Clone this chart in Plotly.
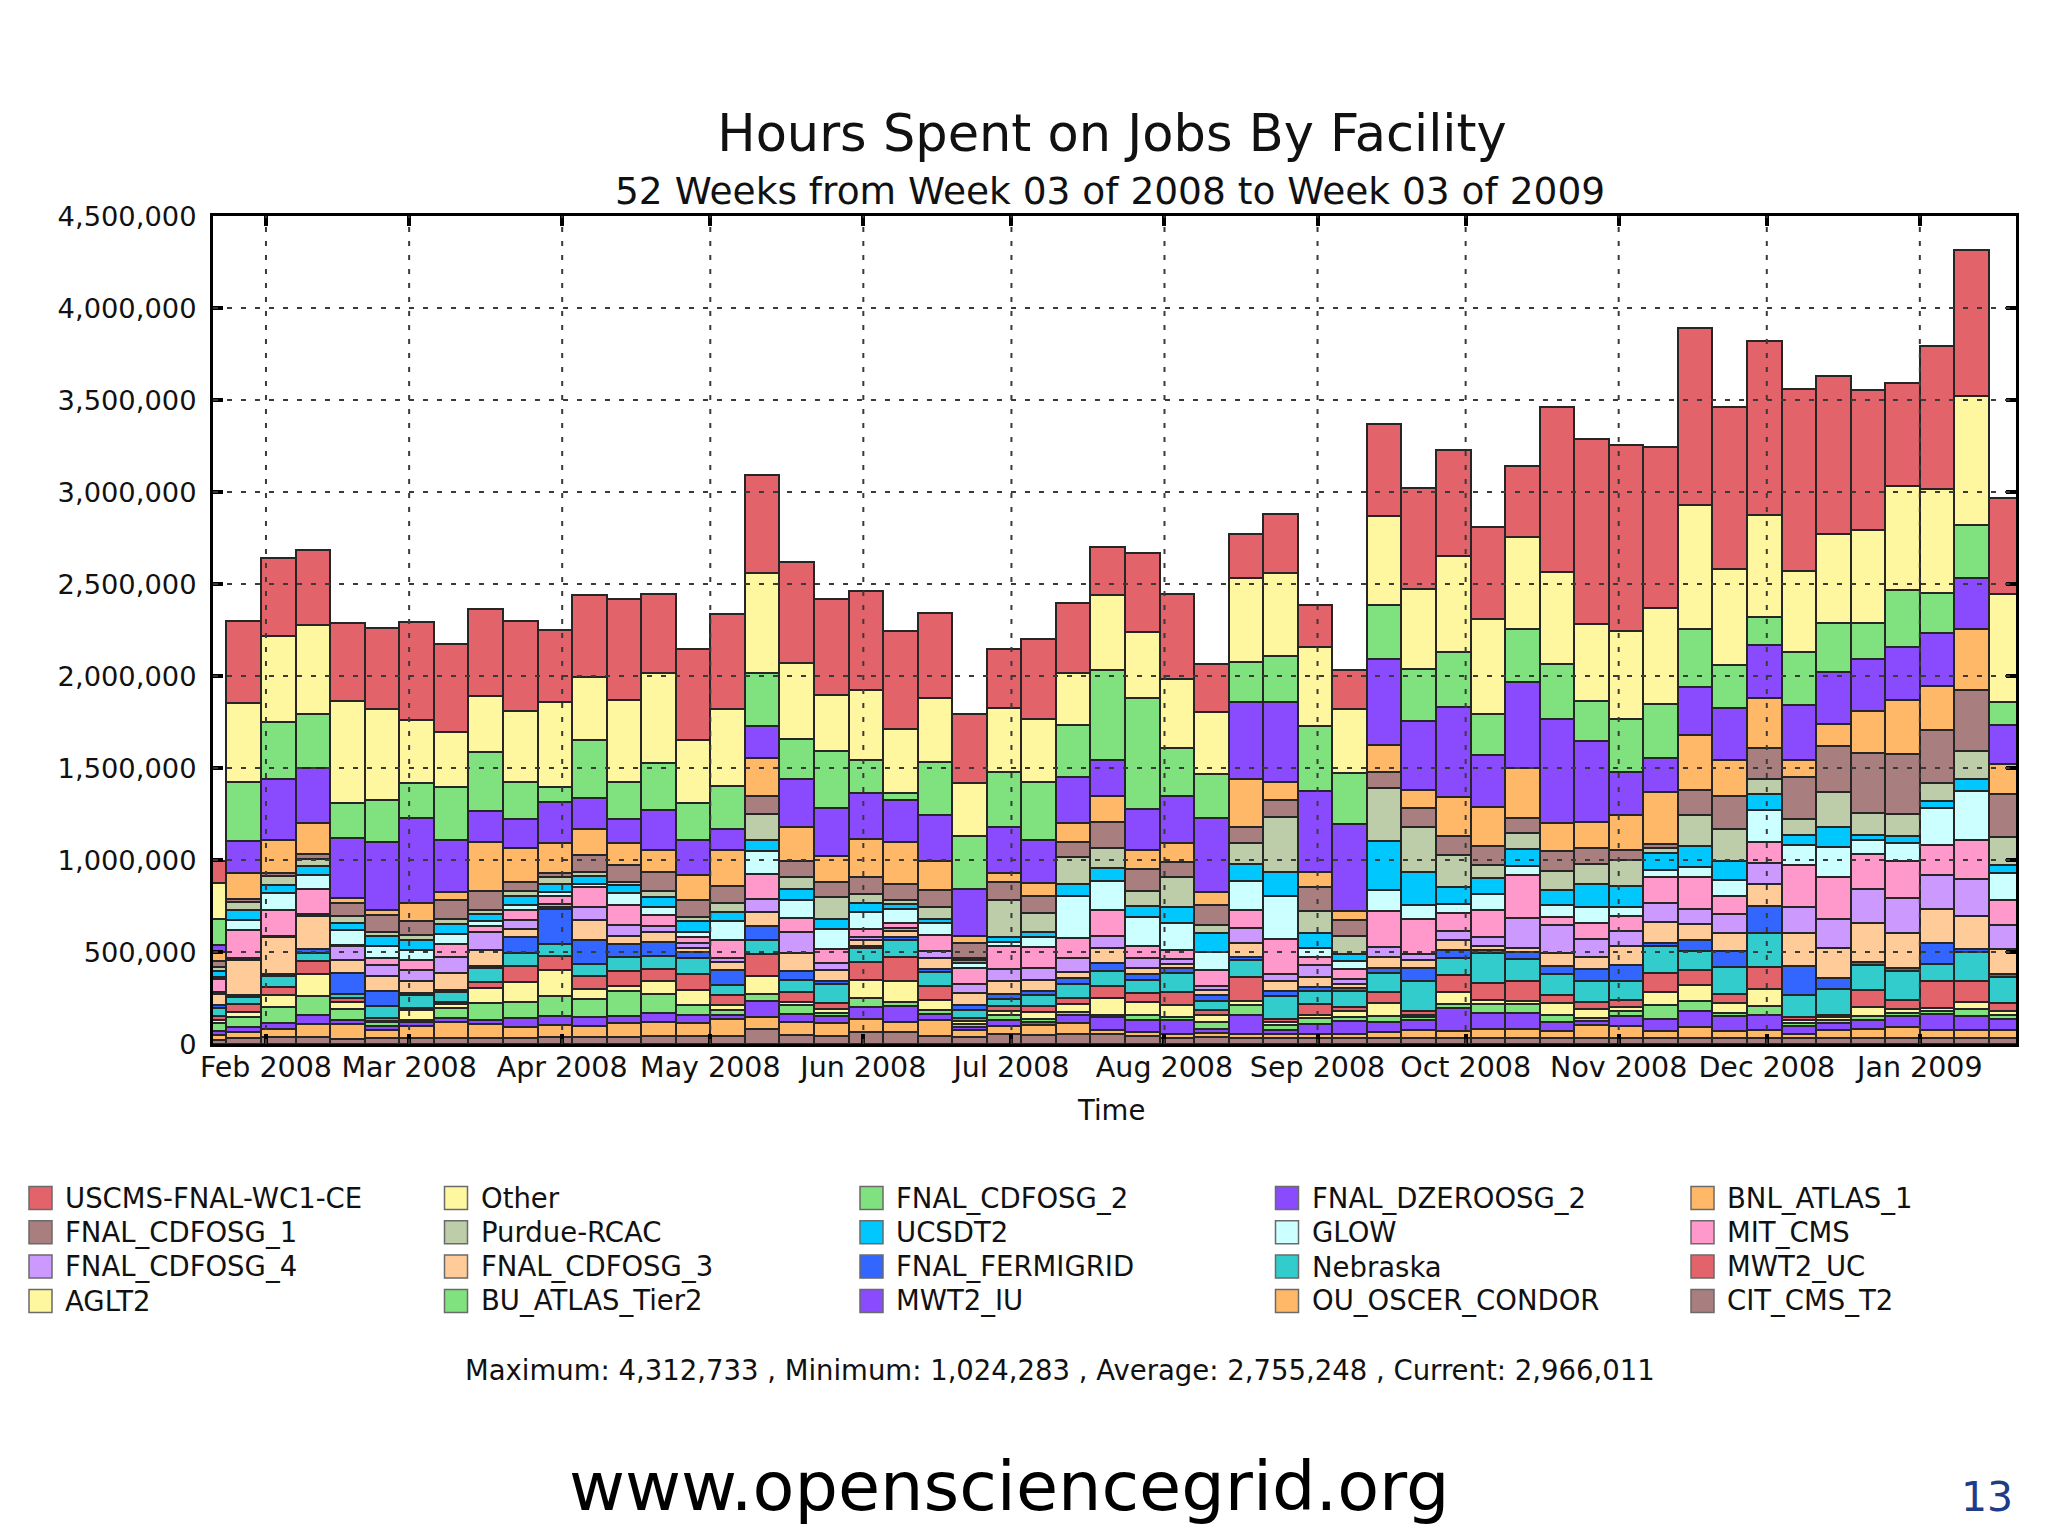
import plotly.graph_objects as go
import pandas as pd

# ---------------- data (thousands of hours per week) ----------------
weeks = pd.date_range("2008-01-20 12:00", periods=53, freq="7D")

CIT_CMS_T2 = [20,30,40,40,25,30,30,30,30,30,40,40,40,45,45,45,80,50,45,65,65,45,40,55,50,55,55,45,35,40,35,35,35,35,35,35,35,35,35,35,35,35,35,35,35,35,35,35,35,35,35,35,35]
OU_OSCER_CONDOR = [30,35,40,70,85,47,70,90,80,65,65,60,75,75,70,90,65,70,70,70,55,85,35,45,55,60,20,20,20,20,20,20,20,20,30,40,35,45,45,35,70,65,35,60,35,40,20,40,45,55,40,40,40]
MWT2_IU = [20,30,35,50,20,20,20,20,20,47,47,47,38,50,45,20,90,45,35,65,85,35,20,30,15,45,70,65,75,20,100,20,55,70,55,55,125,90,90,50,20,50,65,85,80,85,45,40,50,60,90,75,60]
BU_ATLAS_Tier2 = [45,50,85,100,60,20,10,55,95,85,110,95,135,100,50,30,35,45,20,50,25,20,15,25,15,15,15,25,15,40,55,30,30,20,30,15,20,50,45,40,15,30,75,55,20,45,15,15,20,20,15,40,20]
AGLT2 = [15,30,65,120,40,10,55,20,80,110,140,55,25,70,85,25,100,20,20,100,115,55,15,25,40,40,90,75,65,35,25,15,15,35,75,15,70,20,20,65,50,20,75,85,55,95,15,15,50,20,15,40,25]
MWT2_UC = [20,40,45,70,20,15,10,15,34,85,75,75,85,70,85,55,120,50,35,95,130,75,15,25,30,35,65,45,75,30,130,15,65,20,55,20,90,90,110,40,40,40,100,80,45,120,15,15,95,50,150,110,45]
Nebraska = [45,40,60,45,20,66,70,55,75,75,65,65,75,70,85,55,75,70,100,75,90,75,45,40,60,75,80,75,100,50,90,125,70,90,105,165,95,165,115,115,110,100,150,105,150,183,120,140,135,155,90,160,138]
FNAL_FERMIGRID = [15,10,10,20,115,80,10,10,10,85,190,130,70,75,35,80,75,45,20,15,15,15,25,25,25,35,45,30,30,30,20,30,20,15,30,68,40,15,40,45,70,90,15,60,85,145,160,60,15,20,115,15,15]
FNAL_CDFOSG_3 = [60,190,200,180,70,80,70,90,85,45,10,105,45,55,20,45,75,100,55,30,35,65,65,75,60,30,80,35,20,30,75,55,55,20,60,45,55,20,20,70,63,105,113,85,100,120,178,160,210,190,185,180,140]
FNAL_CDFOSG_4 = [15,10,8,10,75,62,55,90,100,45,20,75,60,30,30,25,75,115,40,15,15,35,50,65,65,80,65,55,25,20,80,35,65,30,50,30,50,50,165,154,100,80,105,85,100,115,140,162,190,190,185,200,130]
MIT_CMS = [70,155,140,135,10,35,55,70,32,55,40,105,105,60,30,95,135,75,75,45,25,85,90,120,110,105,145,65,50,85,100,190,45,55,199,190,95,150,235,40,85,80,140,175,100,115,230,225,185,200,160,215,135]
GLOW = [10,55,90,80,80,70,55,55,28,30,25,15,70,45,30,105,125,100,110,95,80,70,25,25,55,230,155,155,145,100,155,235,45,40,115,80,50,85,45,65,85,50,40,50,86,175,110,165,80,100,200,265,145]
UCSDT2 = [30,55,45,50,40,50,55,50,40,45,45,47,40,55,60,45,60,55,55,45,25,20,15,25,30,65,70,60,90,105,95,130,85,40,265,175,95,85,95,85,125,115,90,115,105,85,55,110,25,35,40,65,45]
Purdue_RCAC = [25,40,50,35,35,25,25,30,20,30,35,20,20,30,20,50,140,65,120,50,20,65,15,200,100,145,110,80,160,40,115,300,120,95,290,245,170,75,85,100,110,140,25,170,170,80,85,185,120,120,100,150,150]
FNAL_CDFOSG_1 = [30,20,15,25,70,90,80,100,105,50,20,95,90,105,90,95,100,90,80,90,90,90,80,100,95,85,140,120,85,110,85,90,130,90,85,105,105,100,85,110,85,55,25,135,180,170,230,255,325,327,285,333,235]
BNL_ATLAS_1 = [50,141,183,170,30,30,99,44,264,183,164,140,119,117,138,194,202,183,142,211,226,160,36,51,70,100,141,104,100,70,260,99,80,50,145,97,214,214,271,150,142,189,284,302,199,274,90,119,231,291,240,331,163]
FNAL_DZEROOSG_2 = [40,172,330,302,324,368,458,283,170,157,223,166,132,218,189,117,176,260,260,246,232,249,258,246,232,249,198,222,258,403,419,433,438,473,466,376,490,284,464,568,443,232,181,258,279,288,297,282,283,288,288,276,212]
FNAL_CDFOSG_2 = [137,319,308,290,191,230,189,289,321,202,85,315,202,259,202,229,288,217,311,184,36,289,285,302,315,283,487,602,260,242,215,253,353,276,295,283,297,219,292,296,214,289,296,317,237,149,290,263,192,313,220,288,127]
Other = [200,430,471,487,556,491,345,302,301,387,458,345,443,487,345,419,542,415,306,378,349,345,289,345,345,287,410,361,378,334,461,450,431,346,484,436,521,516,500,503,418,482,521,671,523,556,443,485,505,561,564,705,587]
USCMS_FNAL_WC1_CE = [120,447,419,406,423,443,532,475,476,490,391,444,547,432,491,518,535,547,519,536,534,466,377,321,434,377,258,432,461,260,235,320,230,212,500,548,575,503,387,895,1009,1009,877,964,877,948,988,860,761,565,776,790,519]

month_ticks = ["2008-02-01","2008-03-01","2008-04-01","2008-05-01","2008-06-01","2008-07-01",
               "2008-08-01","2008-09-01","2008-10-01","2008-11-01","2008-12-01","2009-01-01"]
month_labels = ["Feb 2008","Mar 2008","Apr 2008","May 2008","Jun 2008","Jul 2008",
                "Aug 2008","Sep 2008","Oct 2008","Nov 2008","Dec 2008","Jan 2009"]
y_ticks = [0,500000,1000000,1500000,2000000,2500000,3000000,3500000,4000000,4500000]

RED, YEL, GRN, PUR, ORA, MAU = "#E2636A", "#FFF6A0", "#80E27E", "#8A4BFF", "#FFB868", "#A87E7E"
SAGE, CYAN, LCYAN, PINK, LAV, PEACH, BLUE, TEAL = "#BDCCA9", "#00C8FF", "#CCFFFF", "#FF99CC", "#CC99FF", "#FFCC99", "#3366FF", "#33CCCC"

# bottom -> top stacking order
series = [
    ("CIT_CMS_T2", CIT_CMS_T2, MAU),
    ("OU_OSCER_CONDOR", OU_OSCER_CONDOR, ORA),
    ("MWT2_IU", MWT2_IU, PUR),
    ("BU_ATLAS_Tier2", BU_ATLAS_Tier2, GRN),
    ("AGLT2", AGLT2, YEL),
    ("MWT2_UC", MWT2_UC, RED),
    ("Nebraska", Nebraska, TEAL),
    ("FNAL_FERMIGRID", FNAL_FERMIGRID, BLUE),
    ("FNAL_CDFOSG_3", FNAL_CDFOSG_3, PEACH),
    ("FNAL_CDFOSG_4", FNAL_CDFOSG_4, LAV),
    ("MIT_CMS", MIT_CMS, PINK),
    ("GLOW", GLOW, LCYAN),
    ("UCSDT2", UCSDT2, CYAN),
    ("Purdue-RCAC", Purdue_RCAC, SAGE),
    ("FNAL_CDFOSG_1", FNAL_CDFOSG_1, MAU),
    ("BNL_ATLAS_1", BNL_ATLAS_1, ORA),
    ("FNAL_DZEROOSG_2", FNAL_DZEROOSG_2, PUR),
    ("FNAL_CDFOSG_2", FNAL_CDFOSG_2, GRN),
    ("Other", Other, YEL),
    ("USCMS-FNAL-WC1-CE", USCMS_FNAL_WC1_CE, RED),
]

# ---------------- layout geometry (pixels) ----------------
W, H = 2048, 1536
L, R, T, B = 213, 2016, 216, 1044
FONT = "DejaVu Sans"
WEEK_MS = 7 * 24 * 3600 * 1000


def px_x(p):
    return (p - L) / (R - L)


def px_y(p):
    return (B - p) / (B - T)


fig = go.Figure()
for name, vals, col in series:
    fig.add_trace(go.Bar(
        x=weeks, y=[v * 1000 for v in vals], name=name, width=WEEK_MS,
        marker=dict(color=col, line=dict(color="#262626", width=2)),
        showlegend=False,
    ))

shapes = []
# dotted grid drawn above the bars
for yv in y_ticks[1:-1]:
    shapes.append(dict(type="line", xref="paper", yref="y", x0=0, x1=1, y0=yv, y1=yv,
                       line=dict(color="#3a3a3a", width=2, dash="5px,9px"), layer="above"))
for mt in month_ticks:
    shapes.append(dict(type="line", xref="x", yref="paper", x0=mt, x1=mt, y0=0, y1=1,
                       line=dict(color="#3a3a3a", width=2, dash="5px,9px"), layer="above"))

annotations = []
# legend built from the series list (descending order, 5 per row)
legend_items = list(reversed(series))
for i, (name, vals, col) in enumerate(legend_items):
    r, c = divmod(i, 5)
    x0 = 29 + c * 415.5
    yc = 1198 + r * 34.3
    shapes.append(dict(type="rect", xref="paper", yref="paper",
                       x0=px_x(x0), x1=px_x(x0 + 23), y0=px_y(yc - 11.5), y1=px_y(yc + 11.5),
                       fillcolor=col, line=dict(color="#6a6a6a", width=1.5)))
    annotations.append(dict(text=name, xref="paper", yref="paper", x=px_x(x0 + 34), y=px_y(yc),
                            xanchor="left", yanchor="middle", showarrow=False,
                            font=dict(family=FONT, size=27.5, color="#111111")))

annotations += [
    dict(text="52 Weeks from Week 03 of 2008 to Week 03 of 2009", xref="paper", yref="paper",
         x=px_x(1110), y=px_y(191), xanchor="center", yanchor="middle", showarrow=False,
         font=dict(family=FONT, size=37.5, color="#111111")),
    dict(text="Time", xref="paper", yref="paper", x=px_x(1111), y=px_y(1110),
         xanchor="center", yanchor="middle", showarrow=False,
         font=dict(family=FONT, size=27.5, color="#111111")),
    dict(text="Maximum: 4,312,733 , Minimum: 1,024,283 , Average: 2,755,248 , Current: 2,966,011",
         xref="paper", yref="paper", x=px_x(1060), y=px_y(1370), xanchor="center", yanchor="middle",
         showarrow=False, font=dict(family=FONT, size=27.5, color="#111111")),
    dict(text="www.opensciencegrid.org", xref="paper", yref="paper", x=px_x(1009), y=px_y(1486),
         xanchor="center", yanchor="middle", showarrow=False,
         font=dict(family=FONT, size=68.5, color="#000000")),
    dict(text="13", xref="paper", yref="paper", x=px_x(2015), y=px_y(1497),
         xanchor="right", yanchor="middle", showarrow=False,
         font=dict(family=FONT, size=41, color="#1F3C88")),
]

fig.update_layout(
    width=W, height=H,
    margin=dict(l=L, r=W - R, t=T, b=H - B, pad=0),
    paper_bgcolor="white", plot_bgcolor="white",
    barmode="stack", bargap=0,
    showlegend=False,
    title=dict(text="Hours Spent on Jobs By Facility", x=px_x(1112), xref="paper", xanchor="center",
               y=1 - 133 / H, yref="container", yanchor="middle",
               font=dict(family=FONT, size=51, color="#111111")),
    font=dict(family=FONT, color="#111111"),
    shapes=shapes, annotations=annotations,
    xaxis=dict(type="date", range=["2008-01-21 06:30", "2009-01-20 11:30"],
               tickvals=month_ticks, ticktext=month_labels,
               ticks="inside", ticklen=10, tickwidth=4, tickcolor="black",
               showline=True, linecolor="black", linewidth=3, mirror="ticks",
               showgrid=False, zeroline=False, ticklabelstandoff=-4,
               tickfont=dict(family=FONT, size=28.5, color="#111111")),
    yaxis=dict(range=[0, 4500000], tickvals=y_ticks, tickformat=",d",
               ticks="inside", ticklen=10, tickwidth=4, tickcolor="black",
               showline=True, linecolor="black", linewidth=3, mirror="ticks",
               showgrid=False, zeroline=False, ticklabelstandoff=8,
               tickfont=dict(family=FONT, size=27.3, color="#111111")),
)

fig.write_html("out.html", config={"displayModeBar": False},
               post_script="document.body.style.margin='0px';")
